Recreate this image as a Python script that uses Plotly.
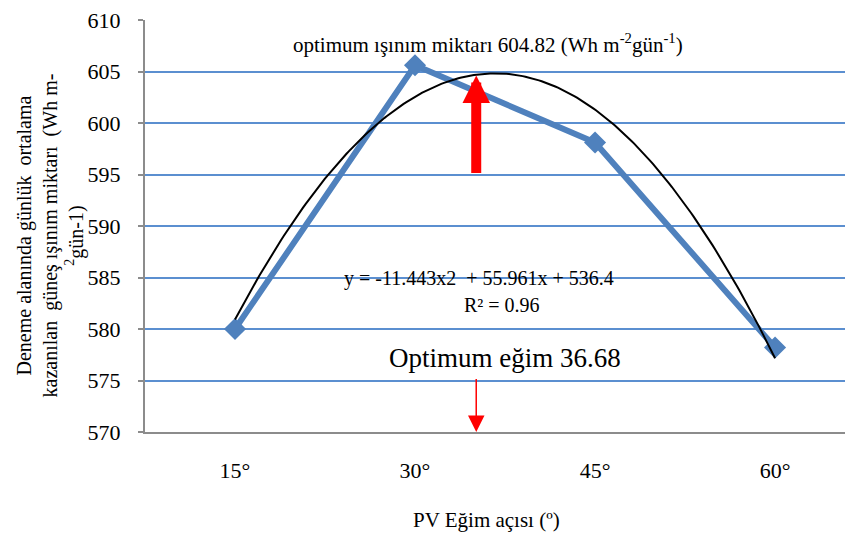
import numpy as np
import plotly.graph_objects as go

# ---- data ----
categories = ["15°", "30°", "45°", "60°"]
cat_pos = [1, 2, 3, 4]
radiation = [580.0, 605.6, 598.1, 578.2]

# polynomial trendline as displayed on the chart
coef_a = -11.443
coef_b = 55.961
coef_c = 536.4
r_squared = 0.96

opt_value = 604.82
opt_tilt = 36.68
arrow_x = 2.34          # where the arrows are drawn on the chart
arrow_tail_value = 595.0
thin_arrow_tail = 575.3

y_ticks = [570, 575, 580, 585, 590, 595, 600, 605, 610]

FONT = "Liberation Serif"
BLUE = "#4F81BD"
GRID = "#5B8FD0"
AXIS = "#8C8C8C"
NB = "\u00a0"

# page offsets (body margin of 8px)
L, T = 137, 9
PW, PH = 708, 415


def px(xp):
    return (xp - 145) / PW


def py(yp):
    return (432 - yp) / PH


fig = go.Figure()

xt = np.linspace(cat_pos[0], cat_pos[-1], 200)
yt = coef_a * xt**2 + coef_b * xt + coef_c

fig.add_trace(go.Scatter(
    x=cat_pos, y=radiation, mode="lines+markers",
    line=dict(color=BLUE, width=6),
    marker=dict(symbol="diamond", size=17, color=BLUE),
    showlegend=False, cliponaxis=False))

fig.add_trace(go.Scatter(
    x=xt, y=yt, mode="lines",
    line=dict(color="black", width=2),
    showlegend=False))

annotations = []

annotations.append(dict(
    x=px(488), y=py(41), xref="paper", yref="paper",
    text=f"optimum ışınım miktarı {opt_value} (Wh m<sup>-2</sup>gün<sup>-1</sup>)",
    showarrow=False, font=dict(family=FONT, size=21, color="black"),
    xanchor="center", yanchor="middle"))

annotations.append(dict(
    x=arrow_x, y=opt_value - 0.2, ax=arrow_x, ay=arrow_tail_value,
    xref="x", yref="y", axref="x", ayref="y", text="",
    showarrow=True, arrowhead=2, arrowsize=0.55, arrowwidth=10,
    arrowcolor="#FF0000", standoff=0))

annotations.append(dict(
    x=px(479), y=py(277), xref="paper", yref="paper",
    text=f"y = {coef_a}x2 {NB}+ {coef_b}x + {coef_c}",
    showarrow=False, font=dict(family=FONT, size=20, color="black"),
    xanchor="center", yanchor="middle"))
annotations.append(dict(
    x=px(502), y=py(304), xref="paper", yref="paper",
    text=f"R² = {r_squared}",
    showarrow=False, font=dict(family=FONT, size=20, color="black"),
    xanchor="center", yanchor="middle"))

annotations.append(dict(
    x=px(505), y=py(357), xref="paper", yref="paper",
    text=f"Optimum eğim {opt_tilt}",
    showarrow=False, font=dict(family=FONT, size=27, color="black"),
    xanchor="center", yanchor="middle"))

annotations.append(dict(
    x=arrow_x, y=570, ax=arrow_x, ay=thin_arrow_tail,
    xref="x", yref="y", axref="x", ayref="y", text="",
    showarrow=True, arrowhead=2, arrowsize=2.2, arrowwidth=1.5,
    arrowcolor="#FF0000", standoff=0))

annotations.append(dict(
    x=px(50), y=py(234), xref="paper", yref="paper",
    text=(f"Deneme alanında günlük {NB}ortalama<br>"
          f"kazanılan {NB}güneş ışınım miktarı {NB}(Wh m-<br>"
          f"<sup>2</sup>gün-1)"),
    textangle=-90, showarrow=False, align="center",
    font=dict(family=FONT, size=20, color="black"),
    xanchor="center", yanchor="middle"))

annotations.append(dict(
    x=px(486), y=py(521), xref="paper", yref="paper",
    text="PV Eğim açısı (º)",
    showarrow=False, font=dict(family=FONT, size=21, color="black"),
    xanchor="center", yanchor="middle"))

fig.update_layout(
    width=845, height=529,
    margin=dict(l=L, r=0, t=T, b=529 - T - PH),
    paper_bgcolor="white", plot_bgcolor="white",
    font=dict(family=FONT, size=22, color="black"),
    annotations=annotations,
    xaxis=dict(
        range=[0.5, 4.433], tickmode="array", tickvals=cat_pos, ticktext=categories,
        showgrid=False, zeroline=False, showline=True, linecolor=AXIS, linewidth=2,
        ticks="", ticklabelstandoff=18, tickfont=dict(family=FONT, size=22)),
    yaxis=dict(
        range=[570, 610], tickmode="array", tickvals=y_ticks,
        showgrid=True, gridcolor=GRID, gridwidth=2, zeroline=False,
        showline=True, linecolor=AXIS, linewidth=2,
        ticks="outside", ticklen=5, tickcolor=AXIS, tickwidth=2,
        ticklabelstandoff=13, ticklabeloverflow="allow",
        tickfont=dict(family=FONT, size=22)),
)

fig.write_html("out.html")
